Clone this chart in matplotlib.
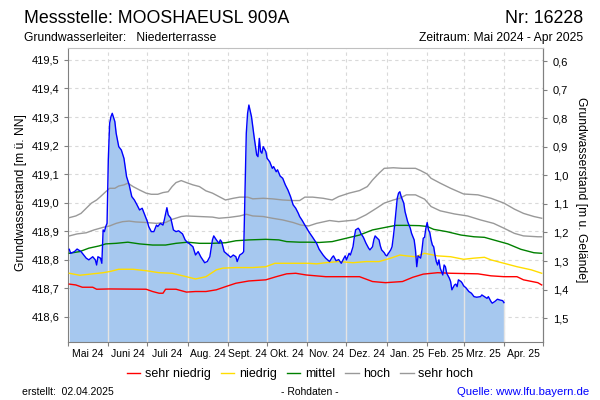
import numpy as np
import pandas as pd
import matplotlib
matplotlib.use("Agg")
import matplotlib.pyplot as plt
from matplotlib.lines import Line2D

plt.rcParams['font.family'] = ['Liberation Sans', 'DejaVu Sans']

# groundwater level, days since 2024-05-01
level_days = [1, 2, 5, 7, 10, 14, 16, 19, 21, 22, 23, 25, 26, 27, 28, 29, 30, 31, 32, 33,
              34, 36, 37, 39, 41, 43, 45, 47, 49, 51, 53, 55, 57, 59, 61, 62, 64, 66, 68, 69,
              71, 73, 74, 76, 77, 79, 81, 83, 85, 88, 90, 92, 93, 96, 98, 100, 102, 105, 107, 109,
              111, 112, 114, 116, 117, 118, 120, 123, 125, 127, 129, 130, 132, 134, 135, 136, 137, 138, 139, 141,
              142, 143, 145, 146, 147, 148, 149, 150, 152, 153, 155, 157, 158, 160, 161, 163, 165, 167, 169, 171,
              173, 175, 177, 178, 180, 182, 184, 185, 188, 191, 193, 196, 198, 201, 203, 204, 206, 208, 210, 212,
              213, 214, 216, 217, 219, 220, 221, 223, 224, 225, 227, 229, 231, 232, 234, 235, 236, 237, 239, 240,
              241, 243, 244, 245, 246, 248, 249, 250, 251, 252, 253, 254, 255, 256, 258, 259, 261, 263, 264, 266,
              267, 268, 269, 271, 272, 273, 274, 275, 276, 277, 278, 279, 280, 281, 282, 283, 284, 285, 286, 288,
              289, 290, 291, 293, 294, 295, 297, 298, 299, 300, 302, 303, 304, 306, 308, 310, 312, 314, 317, 318,
              320, 322, 323, 325, 326, 328, 330, 332, 334, 335]
level = [418.836, 418.822, 418.828, 418.837, 418.828, 418.805, 418.799, 418.810, 418.799, 418.781,
         418.810, 418.805, 418.787, 418.904, 418.898, 418.916, 418.927, 419.155, 419.278, 419.301,
         419.313, 419.284, 419.243, 419.196, 419.184, 419.155, 419.091, 419.062, 419.021, 419.009,
         418.992, 418.974, 418.980, 418.957, 418.933, 418.916, 418.898, 418.898, 418.921, 418.916,
         418.927, 418.921, 418.939, 418.982, 418.957, 418.945, 418.904, 418.898, 418.901, 418.890,
         418.869, 418.859, 418.857, 418.845, 418.816, 418.828, 418.810, 418.789, 418.793, 418.810,
         418.869, 418.883, 418.869, 418.857, 418.869, 418.863, 418.828, 418.816, 418.808, 418.816,
         418.810, 418.793, 418.816, 418.822, 418.828, 419.044, 419.243, 419.313, 419.342, 419.301,
         419.266, 419.231, 419.167, 419.161, 419.225, 419.179, 419.173, 419.196, 419.179, 419.155,
         419.143, 419.120, 419.126, 419.108, 419.115, 419.093, 419.085, 419.062, 419.044, 419.021,
         418.992, 418.980, 418.962, 418.951, 418.937, 418.921, 418.906, 418.898, 418.878, 418.857,
         418.836, 418.816, 418.805, 418.793, 418.808, 418.813, 418.796, 418.800, 418.787, 418.805,
         418.813, 418.799, 418.822, 418.816, 418.845, 418.878, 418.904, 418.910, 418.904, 418.892,
         418.878, 418.857, 418.840, 418.834, 418.845, 418.869, 418.883, 418.878, 418.869, 418.848,
         418.834, 418.824, 418.816, 418.813, 418.820, 418.834, 418.845, 418.880, 418.921, 418.968,
         419.015, 419.033, 419.038, 419.021, 418.998, 418.968, 418.933, 418.910, 418.892, 418.869,
         418.834, 418.775, 418.813, 418.805, 418.834, 418.875, 418.878, 418.910, 418.930, 418.904,
         418.895, 418.869, 418.851, 418.845, 418.816, 418.793, 418.781, 418.799, 418.770, 418.746,
         418.781, 418.775, 418.752, 418.735, 418.723, 418.694, 418.711, 418.714, 418.705, 418.729,
         418.723, 418.717, 418.708, 418.700, 418.688, 418.682, 418.670, 418.668, 418.670, 418.676,
         418.670, 418.664, 418.670, 418.653, 418.647, 418.653, 418.661, 418.658, 418.656, 418.649]

# reference levels
sehr_hoch_days = [1, 6, 10, 14, 18, 22, 25, 29, 32, 36, 39, 43, 46, 50, 55, 60, 64, 69, 73, 77,
                  80, 83, 87, 91, 96, 101, 106, 111, 116, 121, 127, 132, 138, 142, 150, 157, 165, 173, 178, 182,
                  188, 196, 203, 208, 216, 224, 230, 234, 239, 243, 250, 257, 267, 271, 276, 279, 286, 294, 304, 315,
                  325, 335, 343, 350, 358, 364]
sehr_hoch = [418.947, 418.953, 418.962, 418.980, 418.998, 419.009, 419.021, 419.038, 419.050, 419.050,
             419.058, 419.062, 419.068, 419.056, 419.044, 419.033, 419.029, 419.029, 419.035, 419.038,
             419.056, 419.070, 419.077, 419.070, 419.062, 419.056, 419.041, 419.033, 419.021, 419.009,
             419.015, 419.019, 419.019, 419.013, 419.015, 419.013, 419.009, 419.007, 419.007, 419.019,
             419.019, 419.015, 419.009, 419.021, 419.033, 419.042, 419.056, 419.079, 419.103, 419.120,
             419.122, 419.120, 419.120, 419.112, 419.100, 419.085, 419.068, 419.050, 419.030, 419.027,
             419.015, 418.998, 418.977, 418.962, 418.951, 418.945]

hoch_days = [1, 7, 14, 20, 27, 32, 37, 42, 47, 52, 60, 68, 75, 80, 87, 91, 101, 111, 116, 124,
             132, 137, 142, 150, 157, 165, 173, 179, 185, 191, 201, 208, 221, 229, 237, 243, 250, 255, 260, 267,
             274, 279, 286, 297, 307, 317, 327, 335, 343, 350, 361, 364]
hoch = [418.883, 418.890, 418.894, 418.904, 418.913, 418.918, 418.927, 418.933, 418.935, 418.932,
        418.930, 418.927, 418.930, 418.941, 418.951, 418.953, 418.951, 418.949, 418.945, 418.948,
        418.953, 418.959, 418.953, 418.951, 418.945, 418.939, 418.930, 418.921, 418.918, 418.927,
        418.937, 418.933, 418.939, 418.957, 418.980, 418.998, 419.009, 419.015, 419.027, 419.027,
        419.012, 418.986, 418.971, 418.960, 418.953, 418.939, 418.927, 418.910, 418.892, 418.883,
        418.880, 418.880]

mittel_days = [1, 9, 16, 24, 29, 37, 46, 55, 65, 75, 83, 92, 101, 111, 121, 129, 139, 152, 162, 168,
               178, 185, 193, 203, 214, 224, 234, 244, 252, 260, 270, 276, 281, 291, 302, 312, 320, 327, 338, 348,
               358, 364]
mittel = [418.822, 418.828, 418.840, 418.848, 418.855, 418.857, 418.861, 418.855, 418.851, 418.851,
          418.857, 418.861, 418.857, 418.857, 418.859, 418.866, 418.869, 418.871, 418.869, 418.863,
          418.861, 418.861, 418.860, 418.863, 418.875, 418.886, 418.904, 418.913, 418.920, 418.920,
          418.919, 418.916, 418.906, 418.898, 418.886, 418.880, 418.878, 418.869, 418.855, 418.836,
          418.824, 418.822]

niedrig_days = [1, 9, 19, 27, 32, 39, 50, 60, 70, 80, 91, 98, 106, 114, 119, 129, 142, 152, 159, 168,
                178, 185, 191, 198, 208, 219, 229, 239, 248, 255, 260, 267, 274, 284, 294, 304, 312, 320, 325, 335,
                345, 356, 364]
niedrig = [418.752, 418.745, 418.750, 418.754, 418.758, 418.766, 418.766, 418.761, 418.754, 418.752,
           418.740, 418.732, 418.740, 418.764, 418.770, 418.772, 418.772, 418.775, 418.787, 418.787,
           418.787, 418.787, 418.785, 418.789, 418.793, 418.789, 418.793, 418.793, 418.805, 418.816,
           418.813, 418.810, 418.822, 418.813, 418.810, 418.801, 418.805, 418.808, 418.799, 418.787,
           418.775, 418.764, 418.752]

sehr_niedrig_days = [1, 6, 11, 19, 22, 32, 60, 65, 70, 73, 75, 83, 91, 98, 106, 114, 121, 129, 139, 152,
                     160, 168, 175, 183, 198, 224, 234, 244, 257, 265, 273, 284, 294, 315, 325, 335, 345, 350, 361, 364]
sehr_niedrig = [418.714, 418.711, 418.703, 418.703, 418.696, 418.697, 418.696, 418.688, 418.682, 418.682,
                418.696, 418.696, 418.686, 418.688, 418.688, 418.694, 418.705, 418.717, 418.725, 418.729,
                418.740, 418.750, 418.752, 418.746, 418.740, 418.740, 418.723, 418.719, 418.723, 418.738,
                418.749, 418.754, 418.752, 418.750, 418.743, 418.740, 418.740, 418.729, 418.719, 418.711]

month_labels = ['Mai 24', 'Juni 24', 'Juli 24', 'Aug. 24', 'Sept. 24', 'Okt. 24',
                'Nov. 24', 'Dez. 24', 'Jan. 25', 'Feb. 25', 'Mrz. 25', 'Apr. 25']
left_ticks = [418.6, 418.7, 418.8, 418.9, 419.0, 419.1, 419.2, 419.3, 419.4, 419.5]
right_ticks = [0.6, 0.7, 0.8, 0.9, 1.0, 1.1, 1.2, 1.3, 1.4, 1.5]
ground = 420.095

start = pd.Timestamp('2024-05-01')
bounds = ((pd.date_range('2024-05-01', '2025-05-01', freq='MS') - start).days).values.astype(float)
mids = (bounds[:-1] + bounds[1:]) / 2

fig = plt.figure(figsize=(6, 4), dpi=100)
ax = fig.add_axes([68 / 600, 1 - 341.7 / 400, 475 / 600, (341.7 - 48) / 400])

ymin, ymax = 418.512, 419.542
ax.set_xlim(0, bounds[-1])
ax.set_ylim(ymin, ymax)

# grid (dashed) underneath
for b in bounds[1:-1]:
    ax.axvline(b, color='#d9d9d9', lw=0.8, ls=(0, (3, 3)), zorder=0)
for t in left_ticks:
    ax.axhline(t, color='#d9d9d9', lw=0.8, ls=(0, (3, 3)), zorder=0)

ax.fill_between(level_days, level, ymin, color='#a6c8ef', lw=0, zorder=1)
# white month separators inside the filled area
lv_at = np.interp(bounds[1:-1], level_days, level)
inside = bounds[1:-1] <= level_days[-1]
ax.vlines(bounds[1:-1][inside], ymin, lv_at[inside], color='#e4e4e4', lw=1, zorder=2)

ax.plot(sehr_niedrig_days, sehr_niedrig, color='#ff0000', lw=1, zorder=3)
ax.plot(niedrig_days, niedrig, color='#ffdd00', lw=1, zorder=3)
ax.plot(mittel_days, mittel, color='#008000', lw=1, zorder=3)
ax.plot(hoch_days, hoch, color='#999999', lw=1, zorder=3)
ax.plot(sehr_hoch_days, sehr_hoch, color='#999999', lw=1, zorder=3)
ax.plot(level_days, level, color='#0000ff', lw=1, zorder=4)

for s in ax.spines.values():
    s.set_color('#808080')
ax.spines['top'].set_color('#c0c0c0')

ax.set_xticks(bounds)
ax.set_xticklabels([])
ax.set_xticks(mids, minor=True)
ax.set_xticklabels(month_labels, minor=True, fontsize=7.5)
ax.tick_params(axis='x', which='major', length=3, color='#808080')
ax.tick_params(axis='x', which='minor', length=0, pad=5)

ax.set_yticks(left_ticks)
ax.set_yticklabels([f'{t:.1f}'.replace('.', ',') for t in left_ticks], fontsize=8)
ax.tick_params(axis='y', length=3, color='#808080', pad=3)

sec = ax.secondary_yaxis('right', functions=(lambda v: ground - v, lambda d: ground - d))
sec.set_yticks(right_ticks)
sec.set_yticklabels([f'{t:.1f}'.replace('.', ',') for t in right_ticks], fontsize=8)
sec.tick_params(length=3, color='#808080', pad=4)
sec.spines['right'].set_color('#808080')

fig.text(21 / 600, 1 - 193 / 400, 'Grundwasserstand [m ü. NN]', fontsize=8.7,
         rotation=90, ha='center', va='center')
fig.text(581 / 600, 1 - 190 / 400, 'Grundwasserstand [m u. Gelände]', fontsize=8.7,
         rotation=270, ha='center', va='center')

# header
fig.text(24 / 600, 1 - 23 / 400, 'Messstelle: MOOSHAEUSL 909A', fontsize=12.8, va='baseline')
fig.text(583 / 600, 1 - 23 / 400, 'Nr: 16228', fontsize=12.8, va='baseline', ha='right')
fig.text(24 / 600, 1 - 41 / 400, 'Grundwasserleiter:   Niederterrasse', fontsize=8.7, va='baseline')
fig.text(583 / 600, 1 - 41 / 400, 'Zeitraum: Mai 2024 - Apr 2025', fontsize=8.7, va='baseline', ha='right')

# legend
handles = [Line2D([], [], color=c, lw=1) for c in ['#ff0000', '#ffdd00', '#008000', '#999999', '#999999']]
fig.legend(handles, ['sehr niedrig', 'niedrig', 'mittel', 'hoch', 'sehr hoch'],
           loc='center', bbox_to_anchor=(300 / 600, 1 - 374 / 400), ncol=5, frameon=False,
           fontsize=9, handlelength=1.1, handletextpad=0.35, columnspacing=0.8)

# footer
fig.text(22 / 600, 1 - 395 / 400, 'erstellt:  02.04.2025', fontsize=7.5, va='baseline')
fig.text(310 / 600, 1 - 395 / 400, '- Rohdaten -', fontsize=7.5, va='baseline', ha='center')
fig.text(589 / 600, 1 - 395 / 400, 'Quelle: www.lfu.bayern.de', fontsize=8.2, va='baseline',
         ha='right', color='#0000ff')

fig.savefig('out.png', dpi=100)
